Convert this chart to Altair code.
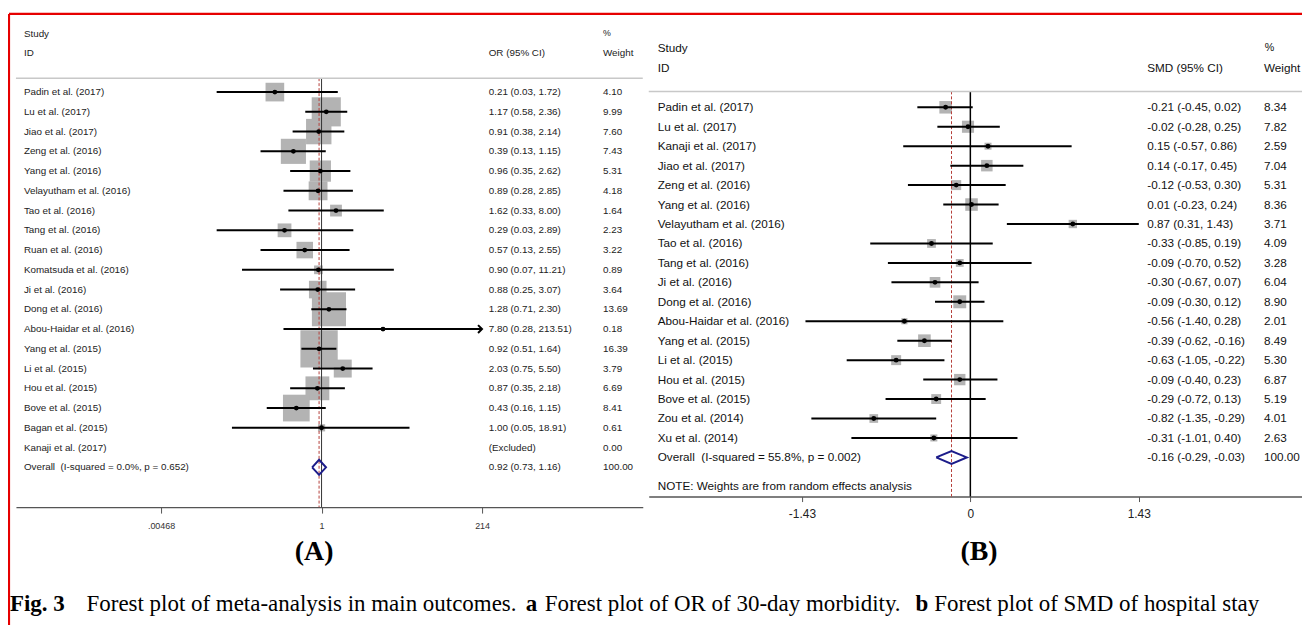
import altair as alt
import pandas as pd
import numpy as np

# ---------------- data: panel A (OR of 30-day morbidity) ----------------
STUDIES_A = ["Padin et al. (2017)", "Lu et al. (2017)", "Jiao et al. (2017)", "Zeng et al. (2016)",
             "Yang et al. (2016)", "Velayutham et al. (2016)", "Tao et al. (2016)", "Tang et al. (2016)",
             "Ruan et al. (2016)", "Komatsuda et al. (2016)", "Ji et al. (2016)", "Dong et al. (2016)",
             "Abou-Haidar et al. (2016)", "Yang et al. (2015)", "Li et al. (2015)", "Hou et al. (2015)",
             "Bove et al. (2015)", "Bagan et al. (2015)", "Kanaji et al. (2017)"]
OR_A = [0.21, 1.17, 0.91, 0.39, 0.96, 0.89, 1.62, 0.29, 0.57, 0.90, 0.88, 1.28, 7.80, 0.92, 2.03, 0.87, 0.43, 1.00, None]
LO_A = [0.03, 0.58, 0.38, 0.13, 0.35, 0.28, 0.33, 0.03, 0.13, 0.07, 0.25, 0.71, 0.28, 0.51, 0.75, 0.35, 0.16, 0.05, None]
HI_A = [1.72, 2.36, 2.14, 1.15, 2.62, 2.85, 8.00, 2.89, 2.55, 11.21, 3.07, 2.30, 213.51, 1.64, 5.50, 2.18, 1.15, 18.91, None]
W_A = [4.10, 9.99, 7.60, 7.43, 5.31, 4.18, 1.64, 2.23, 3.22, 0.89, 3.64, 13.69, 0.18, 16.39, 3.79, 6.69, 8.41, 0.61, 0.00]
OVERALL_A = [0.92, 0.73, 1.16, 100.00]
OVERALL_LABEL_A = "Overall\u00a0 (I-squared = 0.0%, p = 0.652)"
EXCLUDED_TEXT = "(Excluded)"
TICKS_A = [0.00468, 1, 214]
TICK_LABELS_A = [".00468", "1", "214"]
HEAD_A = ["Study", "ID", "OR (95% CI)", "%", "Weight"]
NULL_A = 1

# ---------------- data: panel B (SMD of hospital stay) ----------------
STUDIES_B = ["Padin et al. (2017)", "Lu et al. (2017)", "Kanaji et al. (2017)", "Jiao et al. (2017)",
             "Zeng et al. (2016)", "Yang et al. (2016)", "Velayutham et al. (2016)", "Tao et al. (2016)",
             "Tang et al. (2016)", "Ji et al. (2016)", "Dong et al. (2016)", "Abou-Haidar et al. (2016)",
             "Yang et al. (2015)", "Li et al. (2015)", "Hou et al. (2015)", "Bove et al. (2015)",
             "Zou et al. (2014)", "Xu et al. (2014)"]
SMD_B = [-0.21, -0.02, 0.15, 0.14, -0.12, 0.01, 0.87, -0.33, -0.09, -0.30, -0.09, -0.56, -0.39, -0.63, -0.09, -0.29, -0.82, -0.31]
LO_B = [-0.45, -0.28, -0.57, -0.17, -0.53, -0.23, 0.31, -0.85, -0.70, -0.67, -0.30, -1.40, -0.62, -1.05, -0.40, -0.72, -1.35, -1.01]
HI_B = [0.02, 0.25, 0.86, 0.45, 0.30, 0.24, 1.43, 0.19, 0.52, 0.07, 0.12, 0.28, -0.16, -0.22, 0.23, 0.13, -0.29, 0.40]
W_B = [8.34, 7.82, 2.59, 7.04, 5.31, 8.36, 3.71, 4.09, 3.28, 6.04, 8.90, 2.01, 8.49, 5.30, 6.87, 5.19, 4.01, 2.63]
OVERALL_B = [-0.16, -0.29, -0.03, 100.00]
OVERALL_LABEL_B = "Overall\u00a0 (I-squared = 55.8%, p = 0.002)"
TICKS_B = [-1.43, 0, 1.43]
TICK_LABELS_B = ["-1.43", "0", "1.43"]
HEAD_B = ["Study", "ID", "SMD (95% CI)", "%", "Weight"]
NOTE_B = "NOTE: Weights are from random effects analysis"
NULL_B = 0

PANEL_LABELS = ["(A)", "(B)"]
CAPTION_PARTS = ["Fig. 3", "Forest plot of meta-analysis in main outcomes.", "a",
                 "Forest plot of OR of 30-day morbidity.", "b", "Forest plot of SMD of hospital stay"]
CAPTION_BOLD = [True, False, True, False, True, False]

# ---------------- layout / style ----------------
W, H = 1302, 619
SANS = "Liberation Sans"
SERIF = "Liberation Serif"
GREY_SQ = "#b3b3b3"
NAVY = "#1c1c8a"
DASH_RED = "#b5403a"
AXIS_C = "#555555"
TXT_A = "#222222"
TXT_B = "#111111"
FS_A = 9.9
FS_B = 11.8

# panel A geometry
A_ROW0, A_STEP = 82.7, 19.87
A_X1, A_PXLN = 315.5, 30.1
A_XL, A_XR = 8.0, 638.7
A_HEAD_Y = 68.7
A_AXIS_Y = 500.3
# panel B geometry
B_ROW0, B_STEP = 98.0, 19.57
B_X0, B_PXU = 968.3, 118.5
B_XL, B_XR = 644.7, 1302.0
B_HEAD_Y = 82.0
B_AXIS_Y = 489.7


def label_expr(vals, labs):
    expr = "''"
    for v, l in zip(vals, labs):
        expr = f"datum.value == {v} ? '{l}' : ({expr})"
    return expr


one = pd.DataFrame({"k": [0]})


def fixed_text(txt, x, y, size, font=SANS, color="#222", bold=False, align="left", baseline="middle"):
    return alt.Chart(pd.DataFrame({"t": [txt]})).mark_text(
        align=align, baseline=baseline, fontSize=size, font=font, color=color,
        fontWeight="bold" if bold else "normal"
    ).encode(x=alt.value(x), y=alt.value(y), text="t:N")


def fixed_rule(x, x2, y, y2, color, width, dash=None):
    kw = dict(color=color, strokeWidth=width)
    if dash:
        kw["strokeDash"] = dash
    return alt.Chart(one).mark_rule(**kw).encode(
        x=alt.value(x), x2=alt.value(x2), y=alt.value(y), y2=alt.value(y2))


# ================= PANEL A =================
nA = len(STUDIES_A)
dfA = pd.DataFrame({
    "study": STUDIES_A + [OVERALL_LABEL_A],
    "row": list(range(nA + 1)),
    "est": OR_A + [OVERALL_A[0]],
    "lo": LO_A + [OVERALL_A[1]],
    "hi": HI_A + [OVERALL_A[2]],
    "w": W_A + [OVERALL_A[3]],
})
dfA["ci"] = [EXCLUDED_TEXT if pd.isna(e) else f"{e:.2f} ({l:.2f}, {h:.2f})"
             for e, l, h in zip(dfA["est"], dfA["lo"], dfA["hi"])]
dfA["wt"] = [f"{w:.2f}" for w in dfA["w"]]
studyA = dfA.iloc[:nA].dropna(subset=["est"])
studyA = studyA[studyA["w"] > 0]

xsA = alt.Scale(type="log", domain=[float(np.exp((A_XL - A_X1) / A_PXLN)), float(np.exp((A_XR - A_X1) / A_PXLN))],
                range=[A_XL, A_XR], nice=False, zero=False)
ysA = alt.Scale(domain=[0, nA], range=[A_ROW0, A_ROW0 + nA * A_STEP], nice=False, zero=False)
axA = alt.Axis(values=TICKS_A, labelExpr=label_expr(TICKS_A, TICK_LABELS_A), orient="bottom",
               offset=A_AXIS_Y - H, grid=False, title=None, tickSize=6, tickColor=AXIS_C, tickWidth=1,
               domainColor=AXIS_C, domainWidth=1.5, labelFontSize=9, labelFont=SANS, labelColor="#333",
               labelPadding=9, labelFlush=False, labelOverlap=False)
yA = alt.Y("row:Q", scale=ysA, axis=None)

sqA = alt.Chart(studyA).mark_square(color=GREY_SQ, opacity=1, strokeWidth=0).encode(
    x=alt.X("est:Q", scale=xsA, axis=axA), y=yA,
    size=alt.Size("w:Q", scale=alt.Scale(domain=[0, 20], range=[0, 20 * 86]), legend=None))
ciA = alt.Chart(studyA).mark_rule(color="black", strokeWidth=2).encode(
    x=alt.X("lo:Q", scale=xsA, axis=axA), x2="hi:Q", y=yA)
dotA = alt.Chart(studyA).mark_circle(color="black", size=24, opacity=1).encode(
    x=alt.X("est:Q", scale=xsA, axis=axA), y=yA)
arrowA = alt.Chart(studyA[studyA["hi"] >= TICKS_A[-1] * 0.99]).mark_point(
    shape="M -1 -1 L 0 0 L -1 1", filled=False, color="black", strokeWidth=2, size=64, opacity=1).encode(
    x=alt.X("hi:Q", scale=xsA, axis=axA), y=yA)
nullA = alt.Chart(pd.DataFrame({"v": [NULL_A]})).mark_rule(color="#333333", strokeWidth=1).encode(
    x=alt.X("v:Q", scale=xsA, axis=axA), y=alt.value(A_HEAD_Y), y2=alt.value(A_AXIS_Y))
effA = alt.Chart(pd.DataFrame({"v": [OVERALL_A[0]]})).mark_rule(
    color=DASH_RED, strokeWidth=1, strokeDash=[3, 2]).encode(
    x=alt.X("v:Q", scale=xsA, axis=axA), y=alt.value(A_HEAD_Y), y2=alt.value(A_AXIS_Y))
dhA = 0.38
diaA = alt.Chart(pd.DataFrame({
    "x": [OVERALL_A[1], OVERALL_A[0], OVERALL_A[2], OVERALL_A[0], OVERALL_A[1]],
    "row": [nA, nA - dhA, nA, nA + dhA, nA],
    "o": [0, 1, 2, 3, 4]})).mark_line(color=NAVY, strokeWidth=2, strokeJoin="miter").encode(
    x=alt.X("x:Q", scale=xsA, axis=axA), y=yA, order="o:Q")

nameA = alt.Chart(dfA).mark_text(align="left", baseline="middle", fontSize=FS_A, font=SANS, color=TXT_A).encode(
    x=alt.value(16), y=yA, text="study:N")
ciTxtA = alt.Chart(dfA).mark_text(align="left", baseline="middle", fontSize=FS_A, font=SANS, color=TXT_A).encode(
    x=alt.value(483.7), y=yA, text="ci:N")
wTxtA = alt.Chart(dfA).mark_text(align="left", baseline="middle", fontSize=FS_A, font=SANS, color=TXT_A).encode(
    x=alt.value(598.7), y=yA, text="wt:N")

headA = alt.layer(
    fixed_text(HEAD_A[0], 16, 24.3, FS_A, color=TXT_A),
    fixed_text(HEAD_A[1], 16, 43.7, FS_A, color=TXT_A),
    fixed_text(HEAD_A[2], 483.7, 43.7, FS_A, color=TXT_A),
    fixed_text(HEAD_A[3], 598.7, 23.7, FS_A - 1, color=TXT_A),
    fixed_text(HEAD_A[4], 598.7, 43.7, FS_A, color=TXT_A),
    fixed_rule(A_XL, A_XR, A_HEAD_Y, A_HEAD_Y, "#c8c8c8", 1.5),
)

panelA = alt.layer(sqA, nullA, effA, ciA, dotA, arrowA, diaA, nameA, ciTxtA, wTxtA, headA)

# ================= PANEL B =================
nB = len(STUDIES_B)
dfB = pd.DataFrame({
    "study": STUDIES_B + [OVERALL_LABEL_B],
    "row": list(range(nB + 1)),
    "est": SMD_B + [OVERALL_B[0]],
    "lo": LO_B + [OVERALL_B[1]],
    "hi": HI_B + [OVERALL_B[2]],
    "w": W_B + [OVERALL_B[3]],
})
dfB["ci"] = [f"{e:.2f} ({l:.2f}, {h:.2f})" for e, l, h in zip(dfB["est"], dfB["lo"], dfB["hi"])]
dfB["wt"] = [f"{w:.2f}" for w in dfB["w"]]
studyB = dfB.iloc[:nB]

xsB = alt.Scale(domain=[(B_XL - B_X0) / B_PXU, (B_XR - B_X0) / B_PXU], range=[B_XL, B_XR], nice=False, zero=False)
ysB = alt.Scale(domain=[0, nB], range=[B_ROW0, B_ROW0 + nB * B_STEP], nice=False, zero=False)
axB = alt.Axis(values=TICKS_B, labelExpr=label_expr(TICKS_B, TICK_LABELS_B), orient="bottom",
               offset=B_AXIS_Y - H, grid=False, title=None, tickSize=5, tickColor=AXIS_C, tickWidth=1,
               domainColor=AXIS_C, domainWidth=1.5, labelFontSize=12, labelFont=SANS, labelColor="#222",
               labelPadding=7, labelFlush=False, labelOverlap=False)
yB = alt.Y("row:Q", scale=ysB, axis=None)

sqB = alt.Chart(studyB).mark_square(color=GREY_SQ, opacity=1, strokeWidth=0).encode(
    x=alt.X("est:Q", scale=xsB, axis=axB), y=yB,
    size=alt.Size("w:Q", scale=alt.Scale(domain=[0, 20], range=[0, 20 * 19]), legend=None))
ciB = alt.Chart(studyB).mark_rule(color="black", strokeWidth=2).encode(
    x=alt.X("lo:Q", scale=xsB, axis=axB), x2="hi:Q", y=yB)
dotB = alt.Chart(studyB).mark_circle(color="black", size=24, opacity=1).encode(
    x=alt.X("est:Q", scale=xsB, axis=axB), y=yB)
nullB = alt.Chart(pd.DataFrame({"v": [NULL_B]})).mark_rule(color="black", strokeWidth=1.5).encode(
    x=alt.X("v:Q", scale=xsB, axis=axB), y=alt.value(B_HEAD_Y), y2=alt.value(B_AXIS_Y))
effB = alt.Chart(pd.DataFrame({"v": [OVERALL_B[0]]})).mark_rule(
    color=DASH_RED, strokeWidth=1, strokeDash=[3, 2]).encode(
    x=alt.X("v:Q", scale=xsB, axis=axB), y=alt.value(B_HEAD_Y), y2=alt.value(B_AXIS_Y))
dhB = 0.33
diaB = alt.Chart(pd.DataFrame({
    "x": [OVERALL_B[1], OVERALL_B[0], OVERALL_B[2], OVERALL_B[0], OVERALL_B[1]],
    "row": [nB, nB - dhB, nB, nB + dhB, nB],
    "o": [0, 1, 2, 3, 4]})).mark_line(color=NAVY, strokeWidth=2, strokeJoin="miter").encode(
    x=alt.X("x:Q", scale=xsB, axis=axB), y=yB, order="o:Q")

nameB = alt.Chart(dfB).mark_text(align="left", baseline="middle", fontSize=FS_B, font=SANS, color=TXT_B).encode(
    x=alt.value(653.7), y=yB, text="study:N")
ciTxtB = alt.Chart(dfB).mark_text(align="left", baseline="middle", fontSize=FS_B, font=SANS, color=TXT_B).encode(
    x=alt.value(1146.3), y=yB, text="ci:N")
wTxtB = alt.Chart(dfB).mark_text(align="left", baseline="middle", fontSize=FS_B, font=SANS, color=TXT_B).encode(
    x=alt.value(1263.7), y=yB, text="wt:N")

headB = alt.layer(
    fixed_text(HEAD_B[0], 653.7, 38.7, FS_B, color=TXT_B),
    fixed_text(HEAD_B[1], 653.7, 58, FS_B, color=TXT_B),
    fixed_text(HEAD_B[2], 1146.3, 58, FS_B, color=TXT_B),
    fixed_text(HEAD_B[3], 1264.5, 38.7, FS_B - 1, color=TXT_B),
    fixed_text(HEAD_B[4], 1263.7, 58, FS_B, color=TXT_B),
    fixed_text(NOTE_B, 653.7, 478.7, FS_B, color=TXT_B),
    fixed_rule(B_XL, B_XR, B_HEAD_Y, B_HEAD_Y, "#c8c8c8", 1.5),
)

panelB = alt.layer(sqB, nullB, effB, ciB, dotB, diaB, nameB, ciTxtB, wTxtB, headB)

# ================= frame, panel letters, caption =================
cap_x = [2, 79, 521, 540, 913, 932]
cap_layers = [fixed_text(t, x, 605, 23.1, font=SERIF, color="black", bold=b, baseline="alphabetic")
              for t, x, b in zip(CAPTION_PARTS, cap_x, CAPTION_BOLD)]
frame = alt.layer(
    fixed_rule(1, W, 4, 4, "#e60000", 2.2),
    fixed_rule(1, 1, 4, H, "#e60000", 2.2),
    fixed_text(PANEL_LABELS[0], 308, 546, 28, font=SERIF, color="black", bold=True, align="center"),
    fixed_text(PANEL_LABELS[1], 977, 546, 28, font=SERIF, color="black", bold=True, align="center"),
    *cap_layers,
)

chart = alt.layer(panelA, panelB, frame).resolve_scale(
    x="independent", y="independent", size="independent"
).properties(
    width=W, height=H, padding=0, background="white", autosize=alt.AutoSizeParams(type="none")
).configure_view(stroke=None)

chart.save("out.html", embed_options={"renderer": "svg", "actions": False})
